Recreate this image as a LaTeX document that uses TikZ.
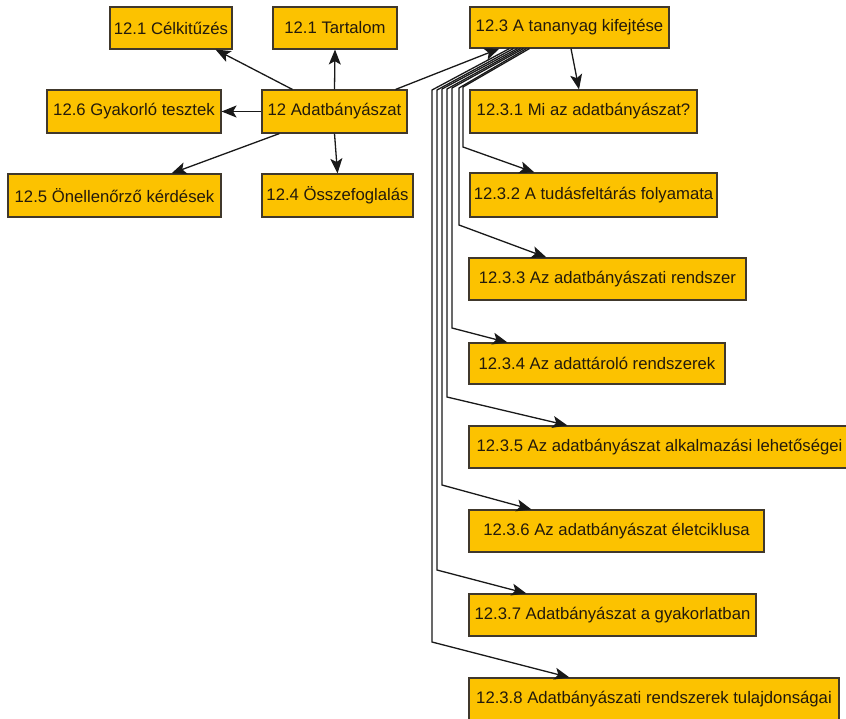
\documentclass[tikz,border=0pt]{standalone}
\usepackage{fontspec}
\setmainfont{Liberation Sans}
\usetikzlibrary{arrows.meta,calc}
\definecolor{boxfill}{RGB}{252,194,0}
\definecolor{boxline}{RGB}{64,56,44}
\definecolor{boxtext}{RGB}{35,26,12}
\tikzset{
  topic/.style={draw=boxline, line width=1.1pt, fill=boxfill, text=boxtext,
    font=\fontsize{16.7}{19}\selectfont, inner sep=0pt,
    minimum height=42pt, anchor=center},
  edge/.style={draw=black!90, line width=1.3pt,
    -{Stealth[length=15pt,width=12pt,inset=3.5pt]}},
}
\begin{document}
\begin{tikzpicture}[x=1pt,y=-1pt]
\useasboundingbox (0,0) rectangle (846,718);
\fill[white] (0,0) rectangle (846,718);

% top-level topics
\node[topic, minimum width=122pt] (cel)   at (171,28)    {12.1 Célkitűzés};
\node[topic, minimum width=124pt] (tart)  at (335,28)    {12.1 Tartalom};
\node[topic, minimum width=174pt, minimum height=43pt] (gyak) at (134,111.5) {12.6 Gyakorló tesztek};
\node[topic, minimum width=145pt, minimum height=43pt] (adat) at (334.5,111.5) {12 Adatbányászat};
\node[topic, minimum width=213pt, minimum height=43pt] (onell) at (114.5,195.5) {12.5 Önellenőrző kérdések};
\node[topic, minimum width=151pt, minimum height=43pt] (ossz) at (337.5,195.5) {12.4 Összefoglalás};
\node[topic, minimum width=199pt, minimum height=41pt] (kif) at (569.5,27.5) {12.3 A tananyag kifejtése};

% subtopics of 12.3
\node[topic, minimum width=227pt, minimum height=43pt] (s1) at (583.5,111.5) {12.3.1 Mi az adatbányászat?};
\node[topic, minimum width=247pt, minimum height=44pt] (s2) at (593.5,195)   {12.3.2 A tudásfeltárás folyamata};
\node[topic, minimum width=277pt] (s3) at (607.5,279)   {12.3.3 Az adatbányászati rendszer};
\node[topic, minimum width=256pt, minimum height=41pt] (s4) at (597,363.5)   {12.3.4 Az adattároló rendszerek};
\node[topic, minimum width=381pt] (s5) at (659.5,447)   {12.3.5 Az adatbányászat alkalmazási lehetőségei};
\node[topic, minimum width=295pt] (s6) at (616.5,531)   {12.3.6 Az adatbányászat életciklusa};
\node[topic, minimum width=287pt] (s7) at (612.5,615)   {12.3.7 Adatbányászat a gyakorlatban};
\node[topic, minimum width=370pt] (s8) at (654,699)     {12.3.8 Adatbányászati rendszerek tulajdonságai};

% connectors from the main topic
\draw[edge] ($(adat.north west)+(31,0)$) -- ($(cel.south east)+(-17,0)$);
\draw[edge] (adat.north) -- (tart.south);
\draw[edge] (adat.west) -- (gyak.east);
\draw[edge] ($(adat.south west)+(18,0)$) -- ($(onell.north west)+(164,0)$);
\draw[edge] (adat.south) -- (ossz.north);
\draw[edge] ($(adat.north east)+(-12,0)$) -- ($(kif.south west)+(30,0)$);

% connectors from 12.3 to its subtopics
\draw[edge] ($(kif.south)+(1.5,0)$) -- ($(s1.north)+(-4.5,0)$);
\draw[edge] ($(kif.south west)+(60,0)$) -- (463,87) -- (463,147) -- ($(s2.north west)+(65,0)$);
\draw[edge] ($(kif.south west)+(57,0)$) -- (459,88) -- (459,225) -- ($(s3.north west)+(78,0)$);
\draw[edge] ($(kif.south west)+(54,0)$) -- (452,88) -- (452,328) -- ($(s4.north west)+(39,0)$);
\draw[edge] ($(kif.south west)+(51,0)$) -- (447,89) -- (447,397) -- ($(s5.north west)+(99,0)$);
\draw[edge] ($(kif.south west)+(48,0)$) -- (442,89) -- (442,485) -- ($(s6.north west)+(63,0)$);
\draw[edge] ($(kif.south west)+(44,0)$) -- (437,90) -- (437,570) -- ($(s7.north west)+(58,0)$);
\draw[edge] ($(kif.south west)+(40,0)$) -- (432,90) -- (432,642) -- ($(s8.north west)+(101,0)$);
\end{tikzpicture}
\end{document}
